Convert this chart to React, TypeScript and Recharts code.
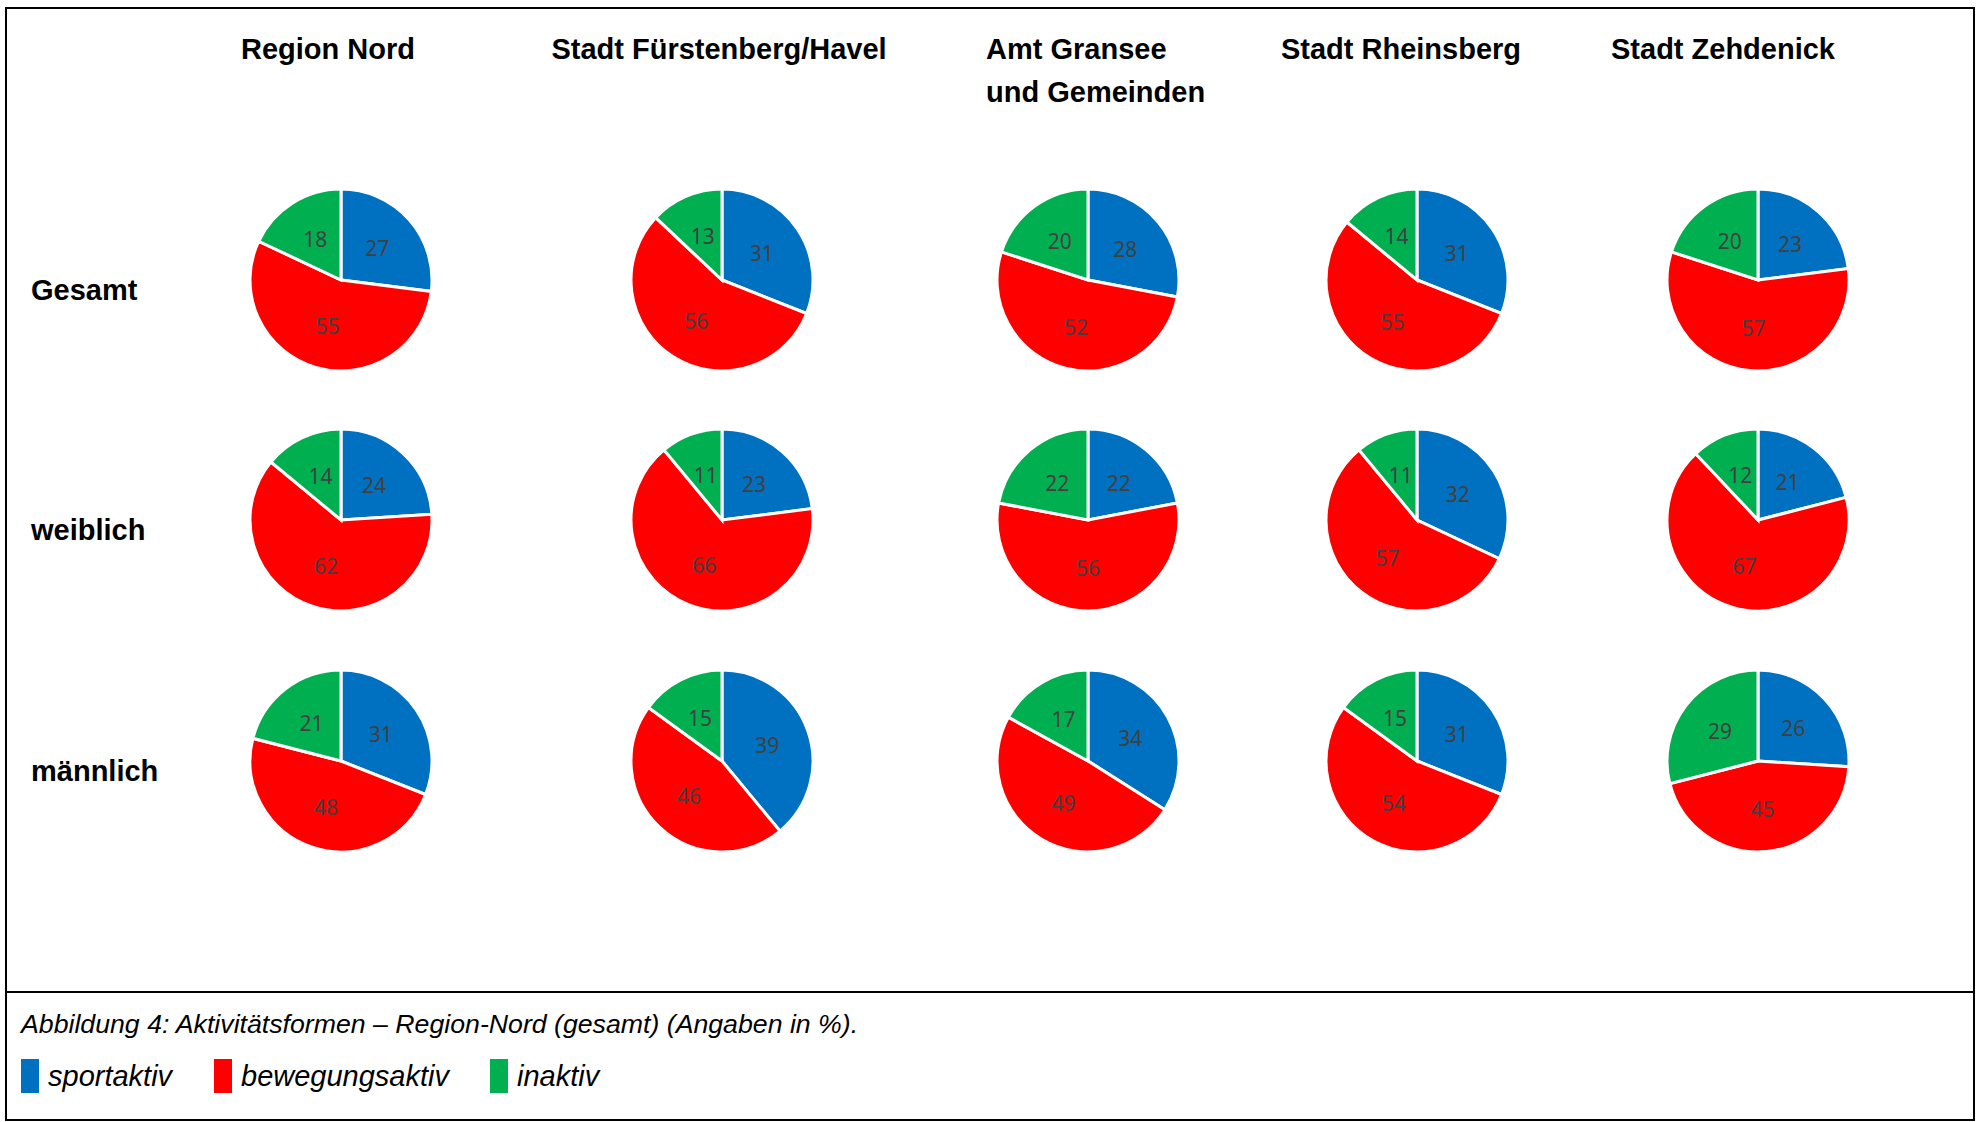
import { PieChart, Pie, Cell } from "recharts";
import type { PieLabelRenderProps } from "recharts";

const REGIONS = [
  "Region Nord",
  "Stadt Fürstenberg/Havel",
  "Amt Gransee\nund Gemeinden",
  "Stadt Rheinsberg",
  "Stadt Zehdenick",
];
const GROUPS = ["Gesamt", "weiblich", "männlich"];
const SERIES = ["sportaktiv", "bewegungsaktiv", "inaktiv"];
const COLORS = ["#0070C0", "#FF0000", "#00B050"];

// [sportaktiv, bewegungsaktiv, inaktiv] per region, per group
const gesamt = [
  [27, 55, 18],
  [31, 56, 13],
  [28, 52, 20],
  [31, 55, 14],
  [23, 57, 20],
];
const weiblich = [
  [24, 62, 14],
  [23, 66, 11],
  [22, 56, 22],
  [32, 57, 11],
  [21, 67, 12],
];
const maennlich = [
  [31, 48, 21],
  [39, 46, 15],
  [34, 49, 17],
  [31, 54, 15],
  [26, 45, 29],
];
const VALUES = [gesamt, weiblich, maennlich];

const colX = [341, 722, 1088, 1417, 1758];
const headerX = [328, 719, 986, 1401, 1723];
const rowY = [280, 520, 761];
const legendX = [21, 214, 490];
const BOX = 240;
const RAD = Math.PI / 180;

const font = "'Liberation Sans', Arial, sans-serif";

function renderLabel(props: PieLabelRenderProps) {
  const cx = Number(props.cx);
  const cy = Number(props.cy);
  const r = Number(props.outerRadius) * 0.53;
  const a = -Number(props.midAngle) * RAD;
  return (
    <text
      x={cx + r * Math.cos(a)}
      y={cy + r * Math.sin(a)}
      textAnchor="middle"
      dominantBaseline="central"
      fill="#404040"
      fontSize={21}
      fontFamily="'Noto Sans', sans-serif"
    >
      {String(props.value)}
    </text>
  );
}

function SmallPie({ values }: { values: number[] }) {
  const data = values.map((v, i) => ({ name: SERIES[i], value: v }));
  return (
    <PieChart width={BOX} height={BOX} margin={{ top: 0, right: 0, bottom: 0, left: 0 }}>
      <Pie
        data={data}
        dataKey="value"
        nameKey="name"
        cx="50%"
        cy="50%"
        outerRadius={91}
        startAngle={90}
        endAngle={-270}
        stroke="#ffffff"
        strokeWidth={3}
        label={renderLabel}
        labelLine={false}
        isAnimationActive={false}
      >
        {data.map((_, i) => (
          <Cell key={i} fill={COLORS[i]} />
        ))}
      </Pie>
    </PieChart>
  );
}

export default function App() {
  return (
    <div style={{ position: "relative", width: 1979, height: 1122, background: "#fff", fontFamily: font }}>
      <style>{"body{margin:0}"}</style>
      {/* outer frame */}
      <div
        style={{
          position: "absolute",
          left: 5,
          top: 7,
          width: 1966,
          height: 1110,
          border: "2px solid #000",
        }}
      />
      <div style={{ position: "absolute", left: 5, top: 991, width: 1968, height: 2, background: "#000" }} />

      {/* column headers */}
      {REGIONS.map((r, i) => {
        const multi = r.includes("\n");
        return (
          <div
            key={r}
            style={{
              position: "absolute",
              left: multi ? headerX[i] : headerX[i] - 250,
              top: 28,
              width: multi ? 400 : 500,
              textAlign: multi ? "left" : "center",
              fontWeight: 700,
              fontSize: 29,
              lineHeight: "43px",
              whiteSpace: "pre",
              color: "#000",
            }}
          >
            {r}
          </div>
        );
      })}

      {/* row labels */}
      {GROUPS.map((g, j) => (
        <div
          key={g}
          style={{
            position: "absolute",
            left: 31,
            top: rowY[j] - 10,
            fontWeight: 700,
            fontSize: 29,
            lineHeight: "40px",
            color: "#000",
          }}
        >
          {g}
        </div>
      ))}

      {/* pies */}
      {VALUES.map((row, j) =>
        row.map((vals, i) => (
          <div
            key={`${j}-${i}`}
            style={{ position: "absolute", left: colX[i] - BOX / 2, top: rowY[j] - BOX / 2 }}
          >
            <SmallPie values={vals} />
          </div>
        ))
      )}

      {/* caption */}
      <div
        style={{
          position: "absolute",
          left: 21,
          top: 1008,
          fontStyle: "italic",
          fontSize: 26.7,
          lineHeight: "32px",
          color: "#000",
          whiteSpace: "nowrap",
        }}
      >
        Abbildung 4: Aktivitätsformen – Region-Nord (gesamt) (Angaben in %).
      </div>

      {/* legend */}
      {SERIES.map((s, i) => (
        <div
          key={s}
          style={{ position: "absolute", left: legendX[i], top: 1059, display: "flex", alignItems: "center" }}
        >
          <div style={{ width: 18, height: 34, background: COLORS[i], marginRight: 9 }} />
          <span style={{ fontStyle: "italic", fontSize: 29, color: "#000" }}>{s}</span>
        </div>
      ))}
    </div>
  );
}
